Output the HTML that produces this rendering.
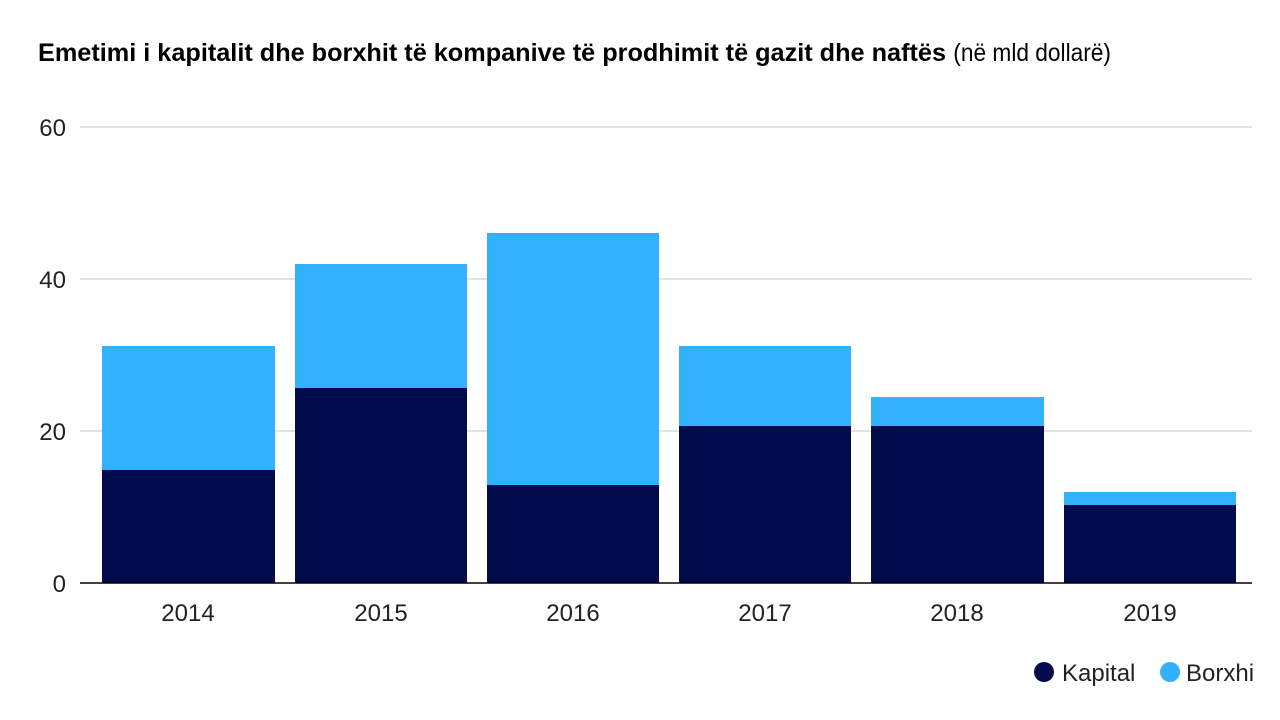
<!DOCTYPE html>
<html><head><meta charset="utf-8"><style>
html,body{margin:0;padding:0;background:#fff;}
svg{display:block;font-family:"Liberation Sans Narrow","Liberation Sans",sans-serif;}
</style></head><body>
<svg width="1280" height="720" viewBox="0 0 1280 720">
<rect width="1280" height="720" fill="#fff"/>
<text x="38" y="61" font-size="25" fill="#000"><tspan font-weight="bold" textLength="908" lengthAdjust="spacingAndGlyphs">Emetimi i kapitalit dhe borxhit të kompanive të prodhimit të gazit dhe naftës</tspan><tspan dx="1" textLength="164" lengthAdjust="spacingAndGlyphs"> (në mld dollarë)</tspan></text>
<g stroke="#d9d9d9" stroke-width="1.5">
<line x1="80" y1="127" x2="1252" y2="127"/>
<line x1="80" y1="279" x2="1252" y2="279"/>
<line x1="80" y1="431" x2="1252" y2="431"/>
</g>
<g font-size="24" fill="#222" text-anchor="end">
<text x="66" y="136">60</text>
<text x="66" y="288">40</text>
<text x="66" y="440">20</text>
<text x="66" y="592">0</text>
</g>
<g fill="#33b1ff">
<rect x="102" y="346" width="173" height="124"/>
<rect x="295" y="264" width="172" height="124"/>
<rect x="487" y="233" width="172" height="252"/>
<rect x="679" y="346" width="172" height="80"/>
<rect x="871" y="397" width="173" height="29"/>
<rect x="1064" y="492" width="172" height="13"/>
</g>
<g fill="#020b4e">
<rect x="102" y="470" width="173" height="113"/>
<rect x="295" y="388" width="172" height="195"/>
<rect x="487" y="485" width="172" height="98"/>
<rect x="679" y="426" width="172" height="157"/>
<rect x="871" y="426" width="173" height="157"/>
<rect x="1064" y="505" width="172" height="78"/>
</g>
<line x1="80" y1="583" x2="1252" y2="583" stroke="#000" stroke-width="1.5"/>
<g font-size="24" fill="#222" text-anchor="middle">
<text x="188" y="621">2014</text>
<text x="381" y="621">2015</text>
<text x="573" y="621">2016</text>
<text x="765" y="621">2017</text>
<text x="957" y="621">2018</text>
<text x="1150" y="621">2019</text>
</g>
<circle cx="1044" cy="672" r="10" fill="#020b4e"/>
<text x="1062" y="681" font-size="24" fill="#222">Kapital</text>
<circle cx="1170" cy="672" r="10" fill="#33b1ff"/>
<text x="1186" y="681" font-size="24" fill="#222">Borxhi</text>
</svg>
</body></html>
